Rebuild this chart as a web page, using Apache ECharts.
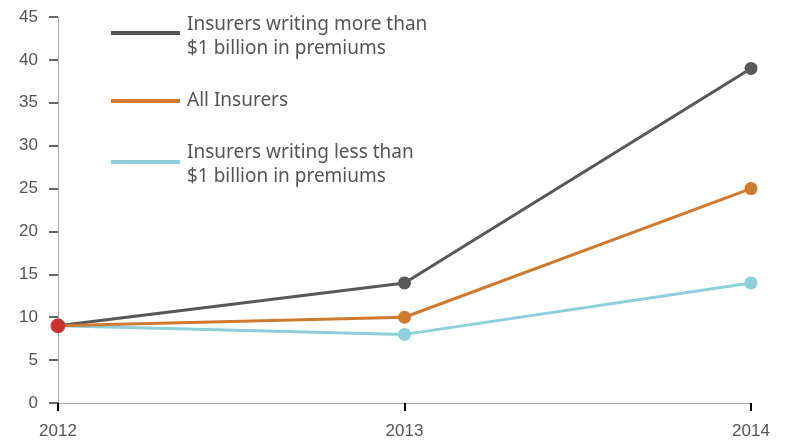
<!DOCTYPE html>
<html><head><meta charset="utf-8">
<script src="https://cdn.jsdelivr.net/npm/echarts@6/dist/echarts.min.js"></script>
<style>html,body{margin:0;padding:0;background:#fff}#c{width:787px;height:440px}</style>
</head><body><div id="c"></div>
<script>
var categories = ['2012', '2013', '2014'];
var seriesNames = ['Insurers writing more than\n$1 billion in premiums', 'All Insurers', 'Insurers writing less than\n$1 billion in premiums'];
var largeInsurers = [9, 14, 39];
var allInsurers = [9, 10, 25];
var smallInsurers = [9, 8, 14];
var startPoint = [9, null, null];
var yTicks = [0, 5, 10, 15, 20, 25, 30, 35, 40, 45];

var colors = ['#58585a', '#d07a2e', '#8ecfdc'];
var chart = echarts.init(document.getElementById('c'));
function lineSeries(name, data, color, z) {
  return {
    name: name, type: 'line', data: data, z: z,
    symbol: 'circle', symbolSize: 13, showSymbol: true,
    lineStyle: { color: color, width: 3 },
    itemStyle: { color: color },
    emphasis: { disabled: true }, animation: false
  };
}
var legendY = [33, 101, 162];
var textCenter = [25, 101, 153];
var graphics = [];
seriesNames.forEach(function (n, i) {
  graphics.push({ type: 'rect', left: 111, top: legendY[i] - 2, shape: { width: 69, height: 4 }, style: { fill: colors[i] } });
  graphics.push({
    type: 'text', left: 187, top: textCenter[i] - 12,
    style: { text: n, fill: '#555', font: '19px "Noto Sans"', lineHeight: 24 }
  });
});
chart.setOption({
  animation: false,
  grid: { left: 58, right: 36, top: 17, bottom: 37 },
  xAxis: {
    type: 'category', data: categories, boundaryGap: false,
    axisLine: { lineStyle: { color: '#aaa', width: 1 } },
    axisTick: { show: true, length: 8, lineStyle: { color: '#000', width: 2 }, alignWithLabel: true },
    axisLabel: { color: '#555', fontSize: 17, fontFamily: 'Liberation Sans', margin: 20 },
    splitLine: { show: false }
  },
  yAxis: {
    type: 'value', min: yTicks[0], max: yTicks[yTicks.length - 1], interval: 5,
    axisLine: { show: true, lineStyle: { color: '#aaa', width: 1 } },
    axisTick: { show: true, length: 9, lineStyle: { color: '#333', width: 1.5 } },
    axisLabel: { color: '#555', fontSize: 17, fontFamily: 'Liberation Sans', margin: 20 },
    splitLine: { show: false }
  },
  graphic: graphics,
  series: [
    lineSeries(seriesNames[0], largeInsurers, colors[0], 2),
    lineSeries(seriesNames[2], smallInsurers, colors[2], 3),
    lineSeries(seriesNames[1], allInsurers, colors[1], 4),
    { type: 'scatter', data: startPoint, symbol: 'circle', symbolSize: 15, itemStyle: { color: '#c8202f' }, z: 10, emphasis: { disabled: true } }
  ]
});
</script></body></html>
